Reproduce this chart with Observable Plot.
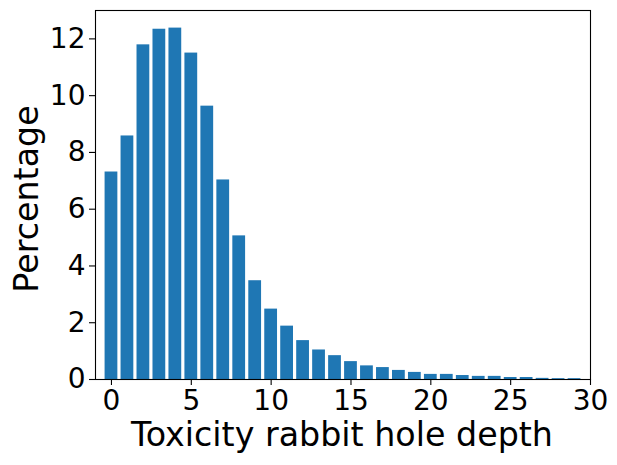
<!DOCTYPE html>
<html>
<head>
<meta charset="utf-8">
<script src="https://cdn.jsdelivr.net/npm/d3@7"></script>
<script src="https://cdn.jsdelivr.net/npm/@observablehq/plot@0.6"></script>
<style>
  html, body { margin: 0; padding: 0; background: #fff; }
  svg { display: block; }
</style>
</head>
<body>
<div id="chart"></div>
<script>
const depths = [0,1,2,3,4,5,6,7,8,9,10,11,12,13,14,15,16,17,18,19,20,21,22,23,24,25,26,27,28,29];
const percentages = [7.31,8.58,11.79,12.34,12.38,11.50,9.63,7.03,5.06,3.48,2.48,1.88,1.37,1.04,0.84,0.63,0.48,0.42,0.32,0.25,0.18,0.18,0.14,0.11,0.11,0.07,0.07,0.04,0.03,0.03];
const xTicks = [0,5,10,15,20,25,30];
const yTicks = [0,2,4,6,8,10,12];
const xLabel = "Toxicity rabbit hole depth";
const yLabel = "Percentage";

const data = depths.map((d, i) => ({depth: d, pct: percentages[i]}));
const barHalf = 0.4;

const chart = Plot.plot({
  width: 617,
  height: 465,
  marginLeft: 95,
  marginRight: 27,
  marginTop: 10,
  marginBottom: 86,
  style: {fontFamily: "DejaVu Sans", background: "#fff", color: "#000"},
  x: {domain: [-1, 30]},
  y: {domain: [0, 13]},
  marks: [
    Plot.rectY(data, {x1: d => d.depth - barHalf, x2: d => d.depth + barHalf, y: "pct", fill: "#1f77b4"}),
    Plot.frame({stroke: "#000", strokeWidth: 1.1}),
    Plot.axisX({ticks: xTicks, tickSize: 6, tickPadding: 5, fontSize: 28, label: null, stroke: "#000", strokeWidth: 1.1}),
    Plot.axisY({ticks: yTicks, tickSize: 6, tickPadding: 4, fontSize: 28, label: null, stroke: "#000", strokeWidth: 1.1}),
    Plot.text([xLabel], {text: d => d, frameAnchor: "bottom", lineAnchor: "bottom", dx: -1, dy: 66, fontSize: 33.3, fill: "#000"}),
    Plot.text([yLabel], {text: d => d, frameAnchor: "left", textAnchor: "middle", lineAnchor: "bottom", rotate: -90, dx: -58, dy: 4, fontSize: 33.3, fill: "#000"})
  ]
});
document.getElementById("chart").appendChild(chart);
</script>
</body>
</html>
